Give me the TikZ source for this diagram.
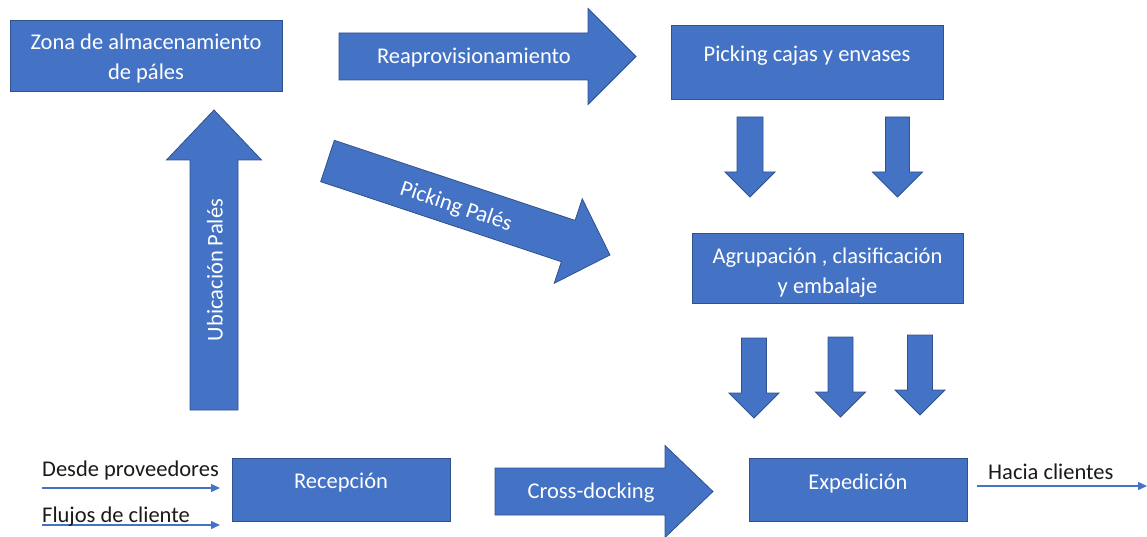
\documentclass[tikz,border=0pt]{standalone}
\usepackage{fontspec}
\setmainfont{Carlito}
\usetikzlibrary{arrows.meta}
\definecolor{blockfill}{HTML}{4472C4}
\definecolor{blockdraw}{HTML}{2F528F}
\definecolor{linecol}{HTML}{4472C4}
\definecolor{txtdark}{HTML}{1A1A1A}
\tikzset{
  boxnode/.style={draw=blockdraw, fill=blockfill, line width=0.8pt, inner sep=0pt},
  wlbl/.style={text=white, font=\fontsize{22.5}{30}\selectfont, align=center, inner sep=0pt},
  dlbl/.style={text=txtdark, font=\fontsize{22.5}{26}\selectfont, inner sep=0pt},
  thinarrow/.style={draw=linecol, line width=1.3pt, -{Triangle[length=9pt,width=8pt]}},
  pics/barrow/.style n args={4}{code={
    \path[fill=blockfill, draw=blockdraw, line width=0.8pt]
      (0,-#2/2) -- (#1-#4,-#2/2) -- (#1-#4,-#3/2) -- (#1,0) --
      (#1-#4,#3/2) -- (#1-#4,#2/2) -- (0,#2/2) -- cycle;
  }}
}
\begin{document}
\begin{tikzpicture}[x=1pt,y=-1pt]
\useasboundingbox (0,0) rectangle (1147,537);

% boxes
\node[boxnode, minimum width=272pt, minimum height=71pt] (zona) at (146,55.5) {};
\node[boxnode, minimum width=272pt, minimum height=74pt] (picking) at (807,62) {};
\node[boxnode, minimum width=271pt, minimum height=70pt] (agrup) at (827.5,268) {};
\node[boxnode, minimum width=218pt, minimum height=63pt] (recep) at (341,489.5) {};
\node[boxnode, minimum width=218pt, minimum height=63pt] (exped) at (858,489.5) {};

\node[wlbl] (zonaT) at (146,59) {Zona de almacenamiento\\de páles};
\node[wlbl] (pickingT) at (807,56) {Picking cajas y envases};
\node[wlbl] (agrupT) at (827.5,273) {Agrupación , clasificación\\y embalaje};
\node[wlbl] (recepT) at (341,483) {Recepción};
\node[wlbl] (expedT) at (858,483) {Expedición};

% block arrows
\pic at (339,56.5) {barrow={297}{47}{96}{48}};
\node[wlbl] (reaproT) at (474,58) {Reaprovisionamiento};

\pic at (495,491.5) {barrow={218}{47}{92}{48}};
\node[wlbl] (crossT) at (591,493) {Cross-docking};

\pic[rotate=90] at (214,410) {barrow={300}{48}{95}{50}};
\node[wlbl, rotate=90] (ubicT) at (215,270) {Ubicación Palés};

\pic[rotate=-18.4] at (327.5,161) {barrow={297.7}{43.5}{89}{44}};
\node[wlbl, rotate=-18.4] (palesT) at (456,207) {Picking Palés};

% small down arrows
\pic[rotate=-90] at (750,117) {barrow={80}{26}{50}{25}};
\pic[rotate=-90] at (897.5,117) {barrow={80}{24}{50}{25}};
\pic[rotate=-90] at (754,338) {barrow={80}{25}{50}{25}};
\pic[rotate=-90] at (840.5,337) {barrow={80}{25}{50}{25}};
\pic[rotate=-90] at (920,335) {barrow={80}{25}{50}{25}};

% thin arrows
\coordinate (d0) at (42,488);
\coordinate (f0) at (42,525);
\coordinate (h1) at (1147,486);
\coordinate (d1) at (220,488);
\coordinate (f1) at (220,525);
\coordinate (h0) at (977,486);
\draw[thinarrow] (d0) -- (d1);
\draw[thinarrow] (f0) -- (f1);
\draw[thinarrow] (h0) -- (h1);
\node[dlbl, anchor=west] (desdeT) at (42,470) {Desde proveedores};
\node[dlbl, anchor=west] (flujosT) at (42,517) {Flujos de cliente};
\node[dlbl, anchor=west] (haciaT) at (988,472) {Hacia clientes};
\end{tikzpicture}
\end{document}
